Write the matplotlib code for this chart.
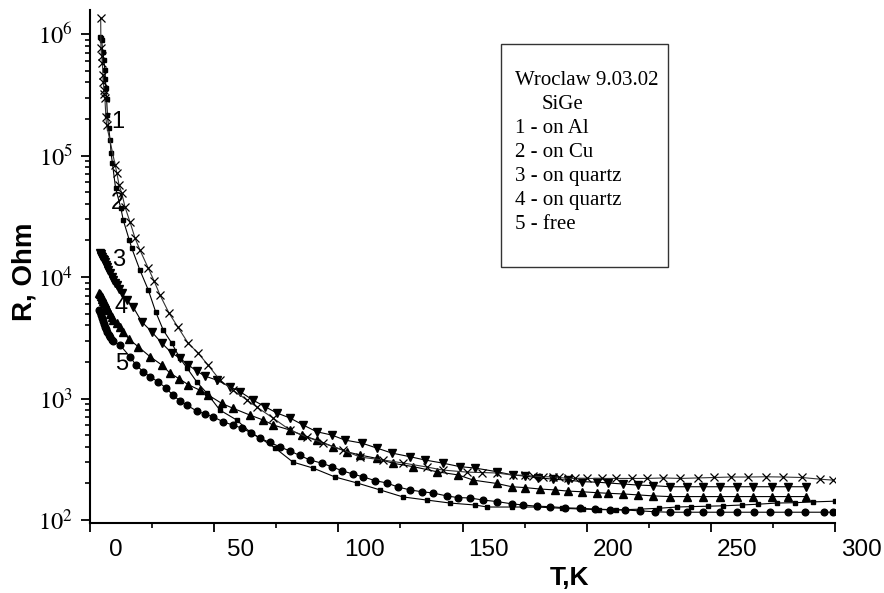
import matplotlib
matplotlib.use('Agg')
import matplotlib.pyplot as plt
from matplotlib import ticker, transforms
from matplotlib.patches import Rectangle

plt.rcParams['font.family'] = ['Liberation Sans', 'DejaVu Sans']
plt.rcParams['mathtext.fontset'] = 'stix'

# 1 - on Al (crosses)
T1 = [4.3, 4.4, 4.8, 5.0, 5.2, 5.4, 5.6, 5.8, 6.0, 6.4, 6.7, 10.1, 10.8, 11.7, 12.8,
      14.1, 16.1, 18.1, 20.1, 23.4, 25.8, 28.2, 31.8, 35.4, 39.5, 43.5, 47.5, 52.3,
      57.6, 63.2, 67.2, 73.7, 80.5, 87.4, 93.8, 101.9, 108.7, 118, 126, 135.7, 142,
      151.8, 158, 163.9, 170.4, 175.2, 178.5, 182.5, 186.5, 189, 192.6, 195.3, 200.3,
      206, 212, 218.1, 224.2, 230.9, 237.6, 244.7, 251.3, 258, 265.1, 272.2, 279.2,
      286.6, 293.9, 299.3]
R1 = [1.35e6, 7.7e5, 6.6e5, 5.8e5, 4.6e5, 4.0e5, 3.46e5, 3.2e5, 2.97e5, 2.07e5, 1.78e5,
      8.4e4, 7.2e4, 5.7e4, 4.9e4, 3.77e4, 2.84e4, 2.1e4, 1.67e4, 1.19e4, 9.3e3, 7.1e3,
      5.06e3, 3.87e3, 2.86e3, 2.37e3, 1.89e3, 1.42e3, 1.17e3, 972, 851, 691, 551, 482,
      430, 377, 330, 312, 295, 273, 258, 248, 246, 244, 234, 234, 230, 227, 227, 224,
      220, 220, 220, 220, 220, 220, 220, 222, 220, 222, 224, 226, 226, 227, 226, 224,
      217, 213]

# 2 - on Cu (squares)
T2 = [4.0, 4.3, 4.7, 5.1, 5.6, 6.0, 6.2, 6.4, 6.7, 7.0, 7.5, 8.1, 8.5, 9.0, 10.3, 12.4,
      13.4, 15.8, 16.8, 20.1, 23.5, 26.4, 29.5, 32.9, 36.2, 39.1, 43.0, 47.0, 52.3, 59.1,
      64.4, 68.5, 74.5, 81.7, 89.8, 98.7, 107.5, 116.8, 126, 135.7, 145, 155, 160, 170,
      180, 190, 198.5, 205, 212, 221.5, 229, 236.4, 242, 249, 255, 262.5, 269, 276.6,
      284, 291, 300]
R2 = [9.5e5, 9.3e5, 8.9e5, 7.1e5, 6.1e5, 5.05e5, 4.3e5, 3.6e5, 2.92e5, 2.15e5, 1.7e5,
      1.34e5, 1.05e5, 8.7e4, 5.4e4, 3.7e4, 2.94e4, 2.02e4, 1.73e4, 1.14e4, 7.8e3, 5.2e3,
      3.66e3, 2.86e3, 2.15e3, 1.78e3, 1.37e3, 1.11e3, 804, 665, 530, 473, 392, 300, 268,
      226, 202, 177, 155, 146, 138, 133, 128, 128, 128, 125, 123, 122, 121, 123, 125,
      128, 129, 130, 131, 133, 135, 138, 139, 141, 143]

# 3 - on quartz (down triangles)
T3 = [4.0, 4.3, 4.6, 5.0, 5.3, 5.6, 6.0, 6.4, 6.8, 7.4, 8.0, 8.7, 9.3, 10.0, 10.8, 11.8,
      12.8, 14.8, 17.3, 20.8, 24.8, 28.9, 32.9, 36.2, 39.6, 43.0, 46.3, 51.0, 56.4, 60.4,
      65.6, 70.5, 75.2, 80.5, 85.8, 91.3, 97.3, 102.7, 109.4, 115.4, 121.5, 128.9, 134.9,
      142.1, 149, 155, 163.8, 170.3, 175.2, 180.4, 186.4, 192.5, 198.1, 204.2, 208.6,
      214.6, 220.7, 226.7, 233.6, 240.4, 246.9, 253.7, 260.6, 267, 274.7, 281.1, 288.3]
R3 = [1.58e4, 1.55e4, 1.5e4, 1.45e4, 1.42e4, 1.38e4, 1.32e4, 1.25e4, 1.2e4, 1.14e4,
      1.07e4, 1.0e4, 9.5e3, 9.0e3, 8.6e3, 8.0e3, 7.4e3, 6.47e3, 5.7e3, 4.29e3, 3.55e3,
      2.86e3, 2.37e3, 2.15e3, 1.89e3, 1.68e3, 1.53e3, 1.42e3, 1.25e3, 1.14e3, 972, 857,
      761, 692, 606, 533, 501, 455, 430, 392, 356, 332, 312, 294, 275, 268, 250, 235, 230,
      223, 217, 213, 207, 205, 202, 198, 194, 192, 188, 188, 188, 188, 188, 188, 188, 188,
      188]

# 4 - on quartz (up triangles)
T4 = [3.7, 4.0, 4.4, 4.7, 5.0, 5.4, 5.7, 6.0, 6.4, 6.8, 7.4, 8.0, 8.7, 9.4, 10.8, 12.0,
      13.4, 15.8, 19.4, 24.2, 28.9, 32.2, 36.0, 39.6, 44.3, 47.6, 53, 57.7, 64.4, 69.8,
      73.8, 80.5, 85.2, 91.3, 98, 103.4, 108.7, 115.4, 122.1, 130.2, 139.6, 148.3, 154.4,
      163.8, 169.8, 175.2, 181.2, 187.2, 192.6, 198, 204, 208.7, 214.7, 220.8, 226.8,
      233.6, 240.4, 246.9, 253.7, 260.6, 267, 274.7, 281.1, 288.3]
R4 = [7.35e3, 7.2e3, 7.0e3, 6.89e3, 6.6e3, 6.3e3, 6.15e3, 6.08e3, 5.8e3, 5.6e3, 5.35e3,
      5.0e3, 4.71e3, 4.45e3, 4.16e3, 3.85e3, 3.55e3, 3.07e3, 2.67e3, 2.21e3, 1.89e3,
      1.62e3, 1.45e3, 1.3e3, 1.17e3, 1.07e3, 913, 830, 731, 665, 605, 551, 501, 455, 401,
      365, 343, 322, 293, 275, 250, 235, 213, 200, 188, 185, 180, 177, 173, 171, 168, 166,
      164, 161, 158, 156, 156, 156, 156, 156, 156, 156, 156, 156]

# 5 - free (circles)
T5 = [3.7, 4.0, 4.4, 4.8, 5.2, 5.6, 6.0, 6.5, 7.0, 7.5, 8.0, 8.7, 9.4, 12.1, 16.1, 18.5,
      21.5, 24.2, 27.5, 30.6, 33.5, 36.2, 38.9, 43.0, 46.5, 49.5, 53.6, 57.5, 61.1, 65,
      68.5, 72.5, 76.5, 80.5, 84.5, 88.6, 93.3, 97.3, 101.4, 105.9, 109.9, 114.8, 119.5,
      124, 128.9, 133.6, 138.1, 143.6, 148.2, 153, 158.3, 163.8, 169.8, 174.4, 179.9,
      185.2, 191.3, 197.3, 203.4, 209.4, 215.4, 221.5, 227.5, 233.6, 240.3, 247, 253.8,
      260.6, 267.4, 274, 281, 288, 295.5, 299]
R5 = [5.4e3, 5.2e3, 4.9e3, 4.6e3, 4.35e3, 4.1e3, 3.9e3, 3.7e3, 3.5e3, 3.35e3, 3.2e3,
      3.05e3, 2.95e3, 2.75e3, 2.21e3, 1.89e3, 1.66e3, 1.51e3, 1.37e3, 1.22e3, 1.06e3, 960,
      885, 789, 745, 708, 644, 605, 572, 520, 470, 435, 400, 370, 340, 312, 294, 275, 255,
      239, 227, 211, 202, 187, 177, 171, 167, 158, 153, 152, 146, 142, 136, 133, 130, 129,
      126, 125, 123, 122, 121, 119, 117, 116, 116, 116, 116, 116, 116, 116, 116, 116, 116,
      116]

curve_names = ['1', '2', '3', '4', '5']
name_T = [11.3, 10.9, 11.7, 12.5, 12.9]
name_R = [1.89e5, 4.06e4, 1.38e4, 5.66e3, 1.92e3]

info_lines = ['Wroclaw 9.03.02', 'SiGe', '1 - on Al', '2 - on Cu',
              '3 - on quartz', '4 - on quartz', '5 - free']

yticks = [1e2, 1e3, 1e4, 1e5, 1e6]
ylabels = [r'$10^{2}$', r'$10^{3}$', r'$10^{4}$', r'$10^{5}$', r'$10^{6}$']

W, H = 884, 593
fig = plt.figure(figsize=(W / 100, H / 100), dpi=100)
ax = fig.add_axes([90 / W, 1 - 522.7 / H, 745 / W, (522.7 - 10) / H])

ax.plot(T2, R2, color='k', lw=0.8, marker='s', ms=3.0)
ax.plot(T5, R5, color='k', lw=0.8, marker='o', ms=4.8)
ax.plot(T4, R4, color='k', lw=0.8, marker='^', ms=5.4)
ax.plot(T3, R3, color='k', lw=0.8, marker='v', ms=5.4)
ax.plot(T1, R1, color='#333333', lw=0.8, marker='x', ms=5.2, mew=0.9, mec='k')

for n, t, r in zip(curve_names, name_T, name_R):
    ax.text(t, r, n, fontsize=17, ha='center', va='center')

ax.set_yscale('log')
ax.set_xlim(0, 300)
ax.set_ylim(95.1, 1.576e6)
ax.set_xticks(range(0, 301, 50))
ax.xaxis.set_minor_locator(ticker.MultipleLocator(25))
ax.set_yticks(yticks)
ax.set_yticklabels(ylabels, fontsize=17.5)
ax.yaxis.set_minor_locator(ticker.LogLocator(base=10, subs=range(2, 10)))
ax.yaxis.set_minor_formatter(ticker.NullFormatter())

for s in ['top', 'right']:
    ax.spines[s].set_visible(False)
for s in ['left', 'bottom']:
    ax.spines[s].set_linewidth(1.5)
ax.tick_params(which='major', direction='out', length=6.5, width=1.3)
ax.tick_params(which='minor', direction='out', length=3.6, width=1.2)
ax.tick_params(axis='x', labelsize=17.5, pad=5)
ax.tick_params(axis='y', pad=6)

# x labels sit right of their ticks in the original
off = transforms.ScaledTranslation(0.26, 0, fig.dpi_scale_trans)
for lab in ax.get_xticklabels():
    lab.set_transform(lab.get_transform() + off)

fig.text(570 / W, 1 - 578 / H, 'T,K', fontsize=19, fontweight='bold',
         ha='center', va='center')
fig.text(25 / W, 1 - 272 / H, 'R, Ohm', fontsize=20, fontweight='bold',
         rotation=90, ha='center', va='center')

# info box
fig.add_artist(Rectangle((501 / W, 1 - 267 / H), 167 / W, 223 / H,
                         transform=fig.transFigure, fill=False, lw=1.0, ec='#333333'))
for i, line in enumerate(info_lines):
    x = 542 if line == 'SiGe' else 515
    fig.text(x / W, 1 - (85 + 24 * i) / H, line, fontsize=15,
             family='Liberation Serif', ha='left', va='baseline')

fig.savefig('out.png', dpi=100)
